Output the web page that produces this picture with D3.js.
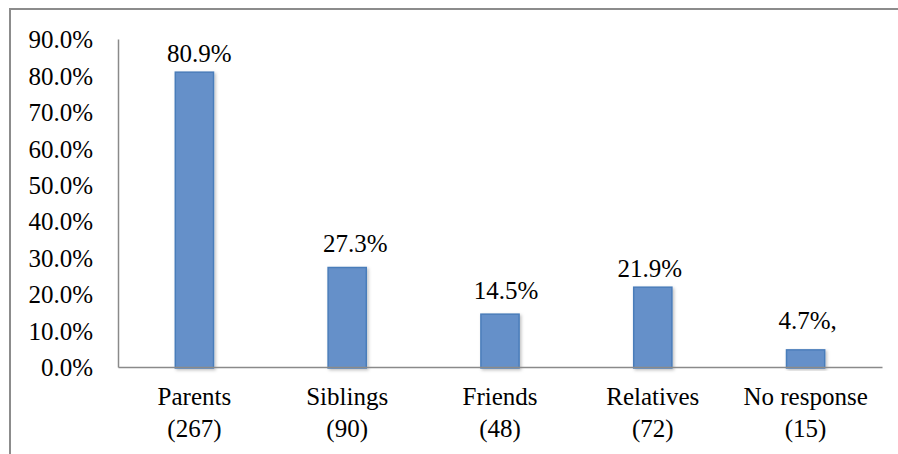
<!DOCTYPE html>
<html>
<head>
<meta charset="utf-8">
<script src="https://cdn.jsdelivr.net/npm/d3@7"></script>
<style>
  html, body { margin: 0; padding: 0; background: #fff; }
  svg { display: block; }
</style>
</head>
<body>
<svg width="898" height="454"></svg>
<script>
(function (d3) {
  'use strict';

  const categories = ['Parents', 'Siblings', 'Friends', 'Relatives', 'No response'];
  const counts = [267, 90, 48, 72, 15];
  const percents = [80.9, 27.3, 14.5, 21.9, 4.7];
  const valueLabels = ['80.9%', '27.3%', '14.5%', '21.9%', '4.7%,'];
  const yTicks = [0, 10, 20, 30, 40, 50, 60, 70, 80, 90];

  // hand-placed label nudges seen in the original
  const labelDx = [5, 8, 6, -3, 2];
  const labelDy = [0, -6, -5, 0, -11];

  const serif = '"Liberation Serif"';
  const fontSize = 25;

  const svg = d3.select('svg');
  const width = +svg.attr('width');
  const height = +svg.attr('height');

  // outer chart border (only top and left visible)
  svg.append('rect')
    .attr('x', 10)
    .attr('y', 9)
    .attr('width', width + 20)
    .attr('height', height + 20)
    .attr('fill', 'none')
    .attr('stroke', '#8c8c8c')
    .attr('stroke-width', 2);

  const margin = { top: 39, right: 16, bottom: 87, left: 118 };
  const innerWidth = width - margin.left - margin.right;
  const innerHeight = height - margin.top - margin.bottom;

  const data = categories.map((c, i) => ({
    name: c, count: counts[i], pct: percents[i], label: valueLabels[i], i
  }));

  const xScale = d3.scaleBand()
    .domain(categories)
    .range([0, innerWidth])
    .padding(0);

  const yScale = d3.scaleLinear()
    .domain([0, 90])
    .range([innerHeight, 0]);

  const barWidth = xScale.bandwidth() * 0.25;

  const defs = svg.append('defs');
  const f = defs.append('filter').attr('id', 'shadow')
    .attr('x', '-20%').attr('y', '-5%').attr('width', '150%').attr('height', '120%');
  f.append('feDropShadow')
    .attr('dx', 1.5).attr('dy', 1.5).attr('stdDeviation', 1.5)
    .attr('flood-color', '#000').attr('flood-opacity', 0.25);

  const g = svg.append('g')
    .attr('transform', `translate(${margin.left},${margin.top})`);

  const yAxis = d3.axisLeft(yScale)
    .tickValues(yTicks)
    .tickSize(0)
    .tickPadding(25)
    .tickFormat(d => d.toFixed(1) + '%');

  const yAxisG = g.append('g').call(yAxis);
  yAxisG.select('.domain')
    .attr('stroke', '#8a8a8a')
    .attr('stroke-width', 1.5);
  yAxisG.selectAll('text')
    .style('font-family', serif)
    .style('font-size', fontSize + 'px')
    .attr('fill', '#000')
    .attr('dy', '0.35em');

  g.selectAll('rect.bar').data(data)
    .enter().append('rect')
      .attr('class', 'bar')
      .attr('x', d => xScale(d.name) + xScale.bandwidth() / 2 - barWidth / 2)
      .attr('y', d => yScale(d.pct))
      .attr('width', barWidth)
      .attr('height', d => innerHeight - yScale(d.pct) + 1)
      .attr('fill', '#6590c9')
      .attr('stroke', '#4a7dba')
      .attr('stroke-width', 1.5)
      .attr('filter', 'url(#shadow)');

  // x baseline
  const xAxis = d3.axisBottom(xScale).tickSize(0).tickFormat('');
  const xAxisG = g.append('g')
    .attr('transform', `translate(0,${innerHeight})`)
    .call(xAxis);
  xAxisG.select('.domain')
    .attr('stroke', '#8a8a8a')
    .attr('stroke-width', 1.5);

  const catLabels = g.selectAll('text.cat').data(data)
    .enter().append('text')
      .attr('class', 'cat')
      .attr('x', d => xScale(d.name) + xScale.bandwidth() / 2)
      .attr('y', innerHeight + 38)
      .attr('text-anchor', 'middle')
      .style('font-family', serif)
      .style('font-size', fontSize + 'px');
  catLabels.append('tspan')
    .attr('x', d => xScale(d.name) + xScale.bandwidth() / 2)
    .text(d => d.name);
  catLabels.append('tspan')
    .attr('x', d => xScale(d.name) + xScale.bandwidth() / 2)
    .attr('dy', 32)
    .text(d => `(${d.count})`);

  g.selectAll('text.value').data(data)
    .enter().append('text')
      .attr('class', 'value')
      .attr('x', d => xScale(d.name) + xScale.bandwidth() / 2 + labelDx[d.i])
      .attr('y', d => yScale(d.pct) - 10 + labelDy[d.i])
      .attr('text-anchor', 'middle')
      .style('font-family', serif)
      .style('font-size', fontSize + 'px')
      .text(d => d.label);

}(d3));
</script>
</body>
</html>
